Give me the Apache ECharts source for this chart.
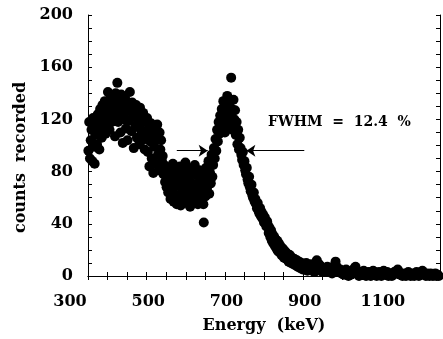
<!DOCTYPE html>
<html>
<head>
<meta charset="utf-8">
<script src="https://cdn.jsdelivr.net/npm/echarts@6/dist/echarts.min.js"></script>
<style>
  html, body { margin: 0; padding: 0; background: #fff; }
  #chart { width: 443px; height: 339px; }
</style>
</head>
<body>
<div id="chart"></div>
<script>
// gamma spectrum, [energy keV, counts]
const spectrum = [
    [301, 96], [303, 118], [305, 90], [307, 104], [309, 112], [311, 88], [313, 121], [315, 99], [317, 86], [319, 108],
    [321, 116], [323, 101], [325, 124], [327, 111], [329, 97], [331, 128], [333, 118], [335, 106],
    [337, 131], [339, 114], [341, 122], [343, 134], [345, 109], [347, 127], [349, 119], [351, 141], [353, 125], [355, 112],
    [357, 136], [359, 129], [361, 118], [363, 138], [365, 123], [367, 131], [369, 107], [371, 140], [373, 127], [375, 148],
    [377, 118], [379, 134], [381, 124], [383, 110], [385, 139], [387, 128], [389, 102], [391, 132], [393, 120], [395, 136],
    [397, 113], [399, 126], [401, 104], [403, 130], [405, 119], [407, 141], [409, 127], [411, 111], [413, 133], [415, 122],
    [417, 98], [419, 128], [421, 115], [423, 131], [425, 106], [427, 124], [429, 117], [431, 101], [433, 129], [435, 112],
    [437, 120], [439, 104], [441, 125], [443, 110], [445, 97], [447, 118], [449, 106],
    [451, 121], [453, 95], [455, 113], [457, 84], [459, 103], [461, 117], [463, 90], [465, 108], [467, 79], [469, 99],
    [471, 112], [473, 86], [475, 104], [477, 116], [479, 93], [481, 81], [483, 110], [485, 97], [487, 104], [489, 88],
    [491, 92], [493, 78], [495, 85], [497, 72], [499, 80], [501, 68], [503, 76], [505, 64], [507, 83], [509, 71],
    [511, 59], [513, 78], [515, 66], [517, 86], [519, 57], [521, 73], [523, 62], [525, 81], [527, 55], [529, 69],
    [531, 77], [533, 60], [535, 84], [537, 54], [539, 71], [541, 65], [543, 80], [545, 58], [547, 74], [549, 87],
    [551, 63], [553, 56], [555, 76], [557, 68], [559, 82], [561, 53], [563, 72], [565, 61], [567, 79], [569, 66],
    [571, 57], [573, 85], [575, 70], [577, 62], [579, 77], [581, 55], [583, 68], [585, 81], [587, 59], [589, 73],
    [591, 64], [593, 78], [595, 55], [596, 41], [598, 70], [600, 61], [602, 83], [604, 67], [606, 74], [608, 88],
    [610, 63], [612, 79], [614, 71], [616, 93], [618, 76], [620, 85],
    [622, 98], [624, 90], [626, 105], [628, 96], [630, 112], [632, 103], [634, 118], [636, 109], [638, 123],
    [640, 115], [642, 128], [644, 119], [646, 134], [648, 124], [650, 110], [652, 131], [654, 121], [656, 138], [658, 126],
    [660, 116], [662, 133], [664, 122], [666, 152], [668, 128], [670, 112], [672, 135], [674, 120], [676, 127], [678, 108],
    [680, 118], [682, 101], [684, 112], [686, 97], [688, 106],
    [690, 98], [692, 93], [694, 89], [696, 95], [698, 85], [700, 88], [702, 81], [704, 78], [706, 83], [708, 74],
    [710, 71], [712, 76], [714, 68], [716, 65], [718, 70], [720, 62], [722, 60], [724, 64], [726, 57], [728, 59],
    [730, 55], [732, 52], [734, 56], [736, 50], [738, 48], [740, 52], [742, 46], [744, 49], [746, 44], [748, 47],
    [750, 41], [752, 45], [754, 40], [756, 38], [758, 42],
    [760, 39], [762, 33], [764, 37], [766, 30], [768, 35], [770, 27], [772, 32], [774, 25], [776, 30], [778, 23],
    [780, 28], [782, 21], [784, 27], [786, 19], [788, 25], [790, 18], [792, 23], [795, 16], [798, 21], [801, 14],
    [804, 19], [807, 13], [810, 17], [813, 11], [816, 16], [819, 10], [822, 14], [825, 9], [828, 13], [831, 8],
    [834, 12], [837, 7], [840, 11], [843, 6], [846, 10], [849, 5], [852, 9], [855, 6], [858, 10], [861, 4],
    [864, 8], [867, 5], [870, 9], [873, 4], [876, 7], [879, 3], [882, 8], [885, 12], [888, 5], [891, 9],
    [894, 4], [897, 7], [900, 3], [903, 6], [906, 3],
    [909, 5], [912, 7], [915, 4], [918, 3], [921, 6], [924, 2], [927, 5], [930, 8], [933, 11], [936, 7],
    [939, 4], [942, 3], [945, 5], [948, 2], [951, 4], [954, 1], [957, 3], [960, 5], [963, 2], [966, 0],
    [969, 3], [972, 1], [975, 4], [978, 2], [981, 6], [984, 7], [987, 4], [990, 2], [993, 0], [996, 3],
    [999, 1], [1002, 2], [1005, 4], [1008, 1], [1011, 0], [1014, 2], [1017, 3], [1020, 1], [1023, 0], [1026, 2],
    [1029, 4], [1032, 3], [1035, 1], [1038, 0], [1041, 2], [1044, 3], [1047, 1], [1050, 0], [1053, 2], [1056, 4],
    [1059, 2], [1062, 1], [1065, 3], [1068, 0], [1071, 1], [1074, 2], [1077, 0], [1080, 1], [1083, 3], [1086, 2],
    [1089, 4], [1092, 5], [1095, 3], [1098, 1], [1101, 2], [1104, 0], [1107, 1], [1110, 2], [1113, 0], [1116, 1],
    [1119, 3], [1122, 2], [1125, 0], [1128, 1], [1131, 2], [1134, 0], [1137, 1], [1140, 3], [1143, 2], [1146, 0],
    [1149, 1], [1152, 2], [1155, 4], [1158, 2], [1161, 1], [1164, 0], [1167, 2], [1170, 1], [1173, 0], [1176, 2],
    [1179, 1], [1182, 0], [1185, 1], [1188, 2], [1191, 0], [1194, 1], [1197, 0]
];

const xTickLabels = [300, 500, 700, 900, 1100];
const yTickLabels = [0, 40, 80, 120, 160, 200];

// FWHM arrows: [from, to] in data coords
const fwhmLevel = 96;
const leftArrow = [527, 606];
const rightArrow = [853, 705];
const fwhmText = 'FWHM  =  12.4  %';
const fwhmTextPos = [943, 117.5];

const font = 'DejaVu Serif';

const chart = echarts.init(document.getElementById('chart'));

const frameAxis = {
    axisLine: { show: true, lineStyle: { color: '#000', width: 1 } },
    axisTick: { show: true, inside: true, length: 4, lineStyle: { color: '#000', width: 1 } },
    axisLabel: { show: false },
    splitLine: { show: false }
};

const option = {
    animation: false,
    backgroundColor: '#fff',
    grid: { left: 88, top: 15, right: 2, bottom: 62 },
    xAxis: [
        {
            ...frameAxis,
            type: 'value',
            position: 'bottom',
            min: 300,
            max: 1200,
            interval: 50,
            name: 'Energy  (keV)',
            nameLocation: 'middle',
            nameGap: 42,
            nameTextStyle: { fontFamily: font, fontWeight: 'bold', fontSize: 16, color: '#000' },
            axisLabel: {
                show: true,
                margin: 18,
                padding: [0, 36, 0, 0],
                fontFamily: font,
                fontWeight: 'bold',
                fontSize: 16,
                color: '#000',
                formatter: v => xTickLabels.includes(v) ? String(v) : ''
            }
        },
        {
            ...frameAxis,
            type: 'value',
            position: 'top',
            min: 300,
            max: 1200,
            interval: 50
        }
    ],
    yAxis: [
        {
            ...frameAxis,
            type: 'value',
            position: 'left',
            min: 0,
            max: 200,
            interval: 10,
            name: 'counts  recorded',
            nameLocation: 'middle',
            nameGap: 55,
            nameRotate: 90,
            nameTextStyle: {
                fontFamily: font, fontWeight: 'bold', fontSize: 16, color: '#000',
                padding: [0, 24, 0, 0]
            },
            axisLabel: {
                show: true,
                margin: 15,
                fontFamily: font,
                fontWeight: 'bold',
                fontSize: 16,
                color: '#000',
                formatter: v => yTickLabels.includes(v) ? String(v) : ''
            }
        },
        {
            ...frameAxis,
            type: 'value',
            position: 'right',
            min: 0,
            max: 200,
            interval: 10
        }
    ],
    series: [
        {
            type: 'scatter',
            data: spectrum,
            symbol: 'circle',
            symbolSize: 10,
            clip: false,
            itemStyle: { color: '#000', opacity: 1 },
            markLine: {
                silent: true,
                symbol: ['none', 'arrow'],
                symbolSize: 9,
                label: { show: false },
                lineStyle: { color: '#000', width: 1, type: 'solid' },
                data: [
                    [{ coord: [leftArrow[0], fwhmLevel] }, { coord: [leftArrow[1], fwhmLevel] }],
                    [{ coord: [rightArrow[0], fwhmLevel] }, { coord: [rightArrow[1], fwhmLevel] }]
                ]
            },
            markPoint: {
                silent: true,
                symbol: 'circle',
                symbolSize: 0,
                data: [{
                    coord: fwhmTextPos,
                    label: {
                        show: true,
                        position: 'inside',
                        formatter: fwhmText,
                        fontFamily: font,
                        fontWeight: 'bold',
                        fontSize: 14,
                        color: '#000'
                    }
                }]
            }
        }
    ]
};

chart.setOption(option);
</script>
</body>
</html>
